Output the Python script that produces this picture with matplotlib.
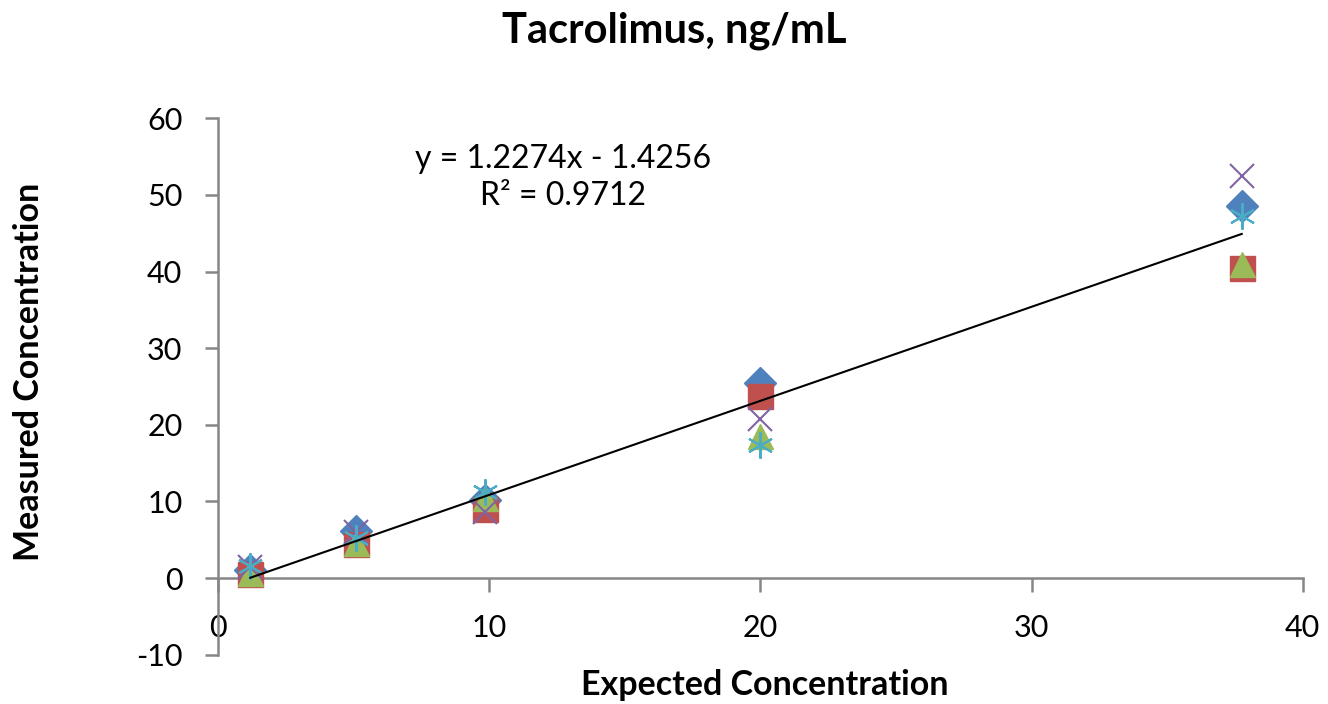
import matplotlib.pyplot as plt
import numpy as np

plt.rcParams["font.family"] = ["Lato", "DejaVu Sans"]
plt.rcParams["axes.unicode_minus"] = False

expected = [1.2, 5.1, 9.85, 20.0, 37.75]

series_blue = [1.0, 6.2, 10.2, 25.5, 48.6]
series_red = [0.5, 4.5, 9.0, 23.8, 40.5]
series_green = [0.6, 4.6, 10.5, 18.5, 41.0]
series_purple = [1.4, 6.0, 8.6, 20.8, 52.5]
series_cyan = [1.6, 5.2, 11.2, 17.4, 47.3]

slope = 1.2274
intercept = -1.4256
r2 = 0.9712

fig = plt.figure(figsize=(13.28, 7.04), dpi=100)
ax = fig.add_axes([0.164, 0.07, 0.817, 0.762])

ax.plot(expected, series_blue, linestyle="none", marker="D", markersize=16,
        color="#4F81BD", zorder=3)
ax.plot(expected, series_red, linestyle="none", marker="s", markersize=18,
        color="#C0504D", zorder=3)
ax.plot(expected, series_green, linestyle="none", marker="^", markersize=18,
        color="#9BBB59", zorder=3)
ax.plot(expected, series_purple, linestyle="none", marker="x", markersize=17,
        markeredgewidth=1.5, color="#8064A2", zorder=3)
ax.plot(expected, series_cyan, linestyle="none", marker=(6, 2, 0), markersize=19,
        markeredgewidth=1.5, color="#4BACC6", zorder=3)

# linear trendline
xs = np.array([min(expected), max(expected)])
ax.plot(xs, slope * xs + intercept, color="black", linewidth=1.5, zorder=4)

ax.text(0.318, 0.89, f"y = {slope}x - {abs(intercept)}\nR² = {r2}",
        transform=ax.transAxes, ha="center", va="center", fontsize=23,
        linespacing=1.3)

ax.set_xlim(0, 40)
ax.set_ylim(-10, 60)
ax.set_xticks([0, 10, 20, 30, 40])
ax.set_yticks(range(-10, 61, 10))

axis_col = "#868686"
ax.spines["top"].set_visible(False)
ax.spines["right"].set_visible(False)
ax.spines["bottom"].set_position(("data", 0))
ax.spines["left"].set_color(axis_col)
ax.spines["bottom"].set_color(axis_col)
ax.spines["left"].set_linewidth(1.8)
ax.spines["bottom"].set_linewidth(1.8)
ax.tick_params(axis="y", direction="out", length=9.5, width=1.8, color=axis_col,
               labelsize=22, pad=16)
ax.tick_params(axis="x", direction="out", length=10, width=1.8, color=axis_col,
               labelsize=22, pad=16)

fig.text(0.508, 0.957, "Tacrolimus, ng/mL", ha="center", va="center",
         fontsize=30, fontweight="bold")
fig.text(0.576, 0.027, "Expected Concentration", ha="center", va="center",
         fontsize=24.5, fontweight="bold")
fig.text(0.022, 0.472, "Measured Concentration", ha="center", va="center",
         rotation=90, fontsize=24.5, fontweight="bold")

fig.savefig("out.png", dpi=100)
